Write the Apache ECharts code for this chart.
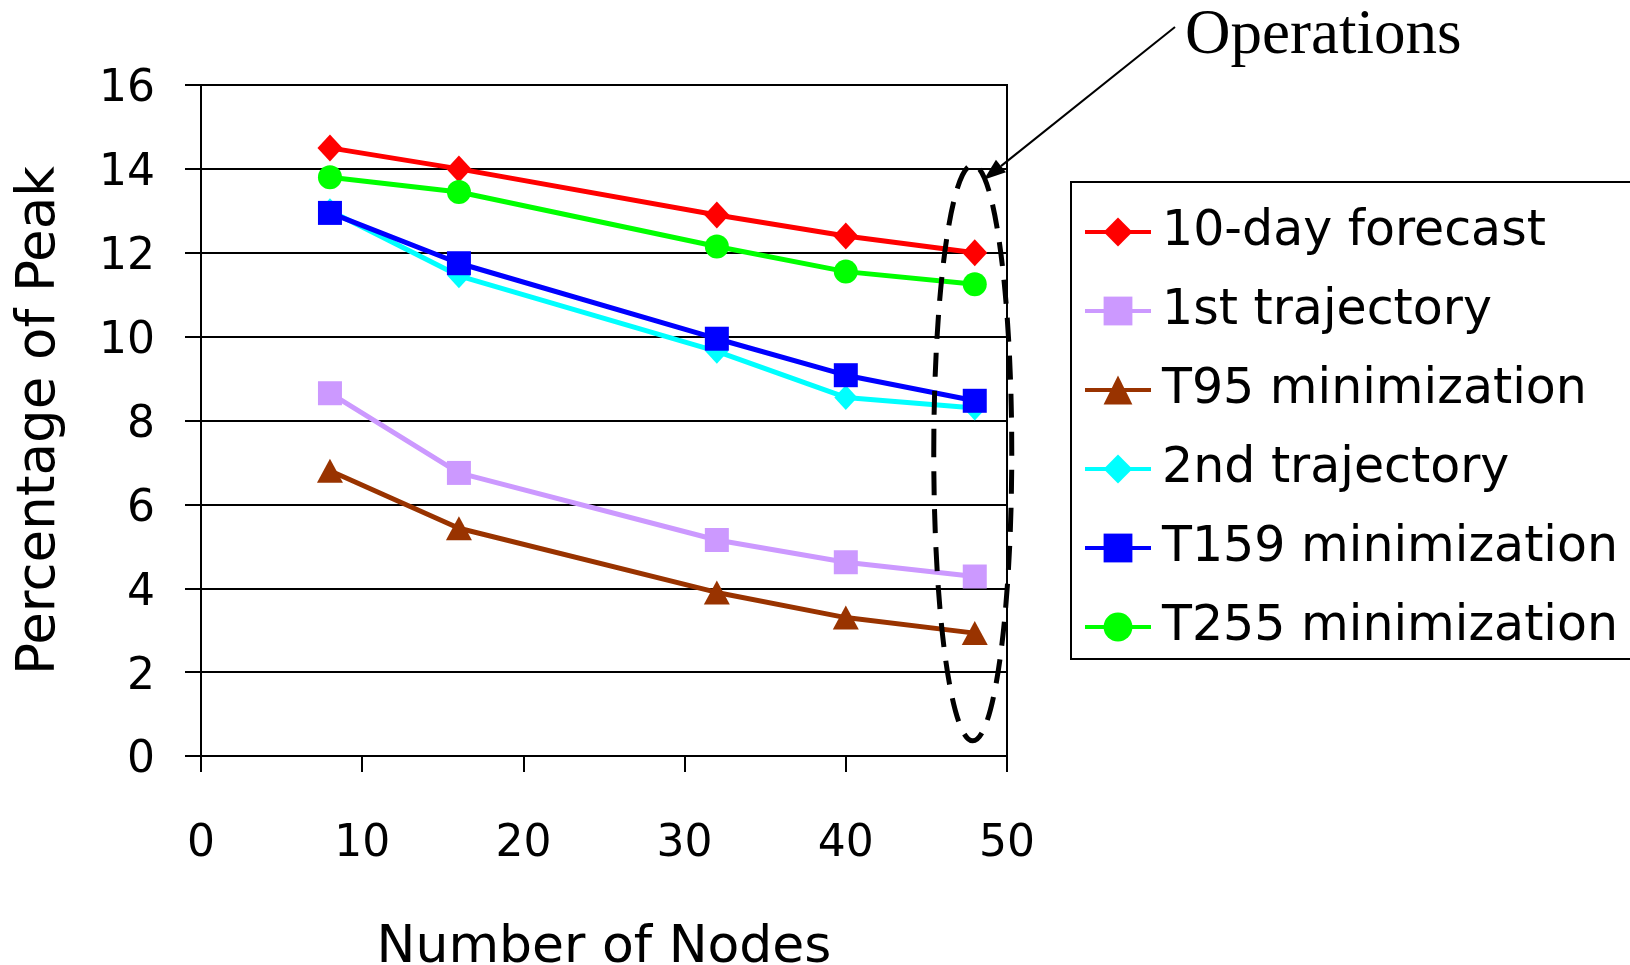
<!DOCTYPE html>
<html>
<head>
<meta charset="utf-8">
<script src="https://cdn.jsdelivr.net/npm/echarts@6/dist/echarts.min.js"></script>
<style>
html,body{margin:0;padding:0;background:#fff;}
#c{width:1630px;height:965px;}
</style>
</head>
<body>
<div id="c"></div>
<script>
// ---- data ----
const nodes = [8, 16, 32, 40, 48];
const seriesNames = ['10-day forecast', '1st trajectory', 'T95 minimization', '2nd trajectory', 'T159 minimization', 'T255 minimization'];
const forecast10day = [14.5, 14.0, 12.9, 12.4, 12.0];
const trajectory1st = [8.65, 6.75, 5.15, 4.62, 4.28];
const t95Min = [6.8, 5.43, 3.9, 3.3, 2.93];
const trajectory2nd = [13.0, 11.45, 9.65, 8.55, 8.3];
const t159Min = [12.95, 11.75, 9.95, 9.08, 8.47];
const t255Min = [13.8, 13.45, 12.15, 11.55, 11.25];
const yTicks = [0, 2, 4, 6, 8, 10, 12, 14, 16];
const xTicks = [0, 10, 20, 30, 40, 50];
const annotationText = 'Operations';
const xName = 'Number of Nodes';
const yName = 'Percentage of Peak';

const values = [forecast10day, trajectory1st, t95Min, trajectory2nd, t159Min, t255Min];
const colors = ['#FF0000', '#CC99FF', '#993300', '#00FFFF', '#0000FF', '#00FF00'];
const symbols = ['diamond', 'rect', 'triangle', 'diamond', 'rect', 'circle'];
const symbolSizes = [[25, 27], 24, [26, 24], [23, 25], 24, 24];

const FONT = 'DejaVu Sans';
const chart = echarts.init(document.getElementById('c'), null, {renderer: 'canvas'});

const series = seriesNames.map((n, i) => ({
  name: n,
  type: 'line',
  data: nodes.map((x, j) => [x, values[i][j]]),
  symbol: symbols[i],
  symbolSize: symbolSizes[i],
  showAllSymbol: true,
  lineStyle: {color: colors[i], width: 5},
  itemStyle: {color: colors[i], opacity: 1},
  emphasis: {disabled: true},
  animation: false,
  z: 2 + i
}));

const option = {
  animation: false,
  backgroundColor: '#fff',
  grid: {left: 201, right: 623, top: 85, bottom: 209, outerBoundsMode: 'none', containLabel: false,
         show: true, borderColor: '#000', borderWidth: 2, backgroundColor: 'transparent'},
  xAxis: {
    type: 'value', min: xTicks[0], max: xTicks[xTicks.length - 1], interval: 10,
    name: xName, nameLocation: 'middle', nameGap: 166,
    nameTextStyle: {fontFamily: FONT, fontSize: 52, color: '#000'},
    axisLine: {show: true, onZero: false, lineStyle: {color: '#000', width: 2}},
    axisTick: {show: true, length: 16, lineStyle: {color: '#000', width: 2}},
    axisLabel: {margin: 67, fontFamily: FONT, fontSize: 44, color: '#000'},
    splitLine: {show: false}
  },
  yAxis: {
    type: 'value', min: yTicks[0], max: yTicks[yTicks.length - 1], interval: 2,
    name: yName, nameLocation: 'middle', nameGap: 134, nameRotate: 90,
    nameTextStyle: {fontFamily: FONT, fontSize: 53, color: '#000'},
    axisLine: {show: true, lineStyle: {color: '#000', width: 2}},
    axisTick: {show: true, length: 16, lineStyle: {color: '#000', width: 2}},
    axisLabel: {
      margin: 46, color: '#000',
      formatter: '{v|{value}}',
      rich: {v: {fontFamily: FONT, fontSize: 44, color: '#000', padding: [10, 0, 0, 0]}}
    },
    splitLine: {show: true, lineStyle: {color: '#000', width: 2}}
  },
  legend: {
    data: seriesNames,
    orient: 'vertical',
    left: 1071, top: 182,
    padding: [25, 30, 7, 12],
    borderColor: '#000', borderWidth: 2,
    backgroundColor: '#fff',
    itemWidth: 66, itemHeight: 36, itemGap: 29,
    lineStyle: {width: 4},
    textStyle: {fontFamily: FONT, fontSize: 49, color: '#000', lineHeight: 50, padding: [0, 0, 0, 6]},
    selectedMode: false
  },
  title: {
    text: annotationText, left: 1180, top: 0,
    textStyle: {fontFamily: 'Liberation Serif', fontSize: 63, fontWeight: 'normal', color: '#000'}
  },
  series: series
};
chart.setOption(option);

// annotation: dashed ellipse around the 48-node points, with an arrow from the label
const c = chart.convertToPixel({gridIndex: 0}, [48, 7.3]);
const cx = c[0] - 2, cy = c[1] + 3;
const rx = 39, ry = 288;
const tip = [cx + 11, cy - ry + 15];
const start = [1175, 27];
const dx = start[0] - tip[0], dy = start[1] - tip[1];
const L = Math.hypot(dx, dy), ux = dx / L, uy = dy / L;
const hl = 22, hw = 8;
const bx = tip[0] + ux * hl, by = tip[1] + uy * hl;
chart.setOption({
  graphic: [
    {type: 'ellipse', shape: {cx: cx, cy: cy, rx: rx, ry: ry}, z: 100,
     style: {fill: 'none', stroke: '#000', lineWidth: 5, lineDash: [24, 14]}},
    {type: 'line', shape: {x1: start[0], y1: start[1], x2: bx, y2: by}, z: 100,
     style: {stroke: '#000', lineWidth: 2}},
    {type: 'polygon', shape: {points: [tip, [bx - uy * hw, by + ux * hw], [bx + uy * hw, by - ux * hw]]}, z: 100,
     style: {fill: '#000'}}
  ]
});
</script>
</body>
</html>
